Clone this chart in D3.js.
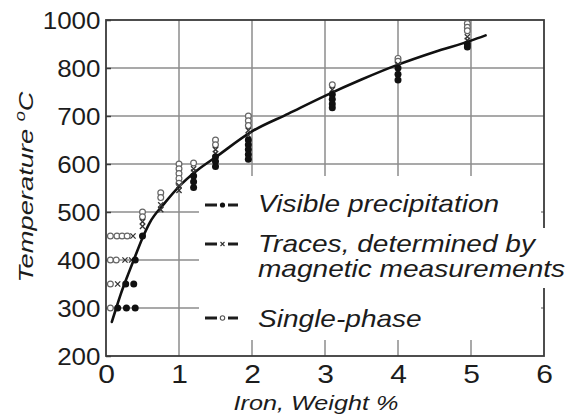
<!DOCTYPE html>
<html>
<head>
<meta charset="utf-8">
<script src="https://cdn.jsdelivr.net/npm/d3@7"></script>
<style>
  html, body { margin: 0; background: #fff; }
  svg { display: block; }
</style>
</head>
<body>
<svg id="chart" width="574" height="418"></svg>
<script>
// Axis ticks and grid
const ironTicks = [0, 1, 2, 3, 4, 5, 6];
const tempTicks = [200, 300, 400, 500, 600, 700, 800, 1000];
const gridIron = [1, 2, 3, 4, 5];
const gridTemp = [300, 400, 500, 600, 700, 800];

// Solvus curve (Fe wt%, °C)
const curveIron = [0.08, 0.14, 0.2, 0.3, 0.4, 0.5, 0.6, 0.8, 1.0, 1.25, 1.5, 2.0, 2.5, 3.0, 3.5, 4.0, 4.5, 5.0, 5.2];
const curveTemp = [271, 300, 328, 369, 408, 446, 478, 518, 553, 587, 614, 668, 705, 742, 776, 814, 867, 914, 936];

// Visible precipitation (filled circles)
const precipIron = [0.16, 0.28, 0.40, 0.27, 0.38, 0.40, 0.50,
                    1.2, 1.2, 1.2, 1.5, 1.5, 1.5,
                    1.95, 1.95, 1.95, 1.95, 1.95,
                    3.1, 3.1, 3.1, 3.1, 4.0, 4.0, 4.0, 4.95, 4.95];
const precipTemp = [300, 300, 300, 350, 350, 400, 450,
                    575, 563, 551, 615, 605, 595,
                    650, 640, 630, 620, 610,
                    745, 735, 725, 717, 800, 787, 775, 900, 888];

// Traces, determined by magnetic measurements (crosses)
const tracesIron = [0.16, 0.26, 0.35, 0.37, 0.5, 0.5, 0.75, 0.75, 1.0, 1.0,
                    1.2, 1.2, 1.5, 1.5, 1.95, 1.95, 3.1, 4.0, 4.95, 4.95];
const tracesTemp = [350, 400, 400, 450, 480, 470, 515, 505, 555, 545,
                    590, 583, 630, 622, 670, 660, 755, 815, 930, 915];

// Single-phase (open circles)
const singleIron = [0.06, 0.06, 0.06, 0.14, 0.06, 0.15, 0.22, 0.29,
                    0.5, 0.5, 0.75, 0.75, 1.0, 1.0, 1.0, 1.0, 1.0,
                    1.2, 1.5, 1.5, 1.95, 1.95, 1.95, 3.1, 4.0, 4.0,
                    4.95, 4.95, 4.95];
const singleTemp = [300, 350, 400, 400, 450, 450, 450, 450,
                    500, 490, 540, 530, 600, 590, 580, 570, 560,
                    602, 650, 640, 700, 690, 680, 765, 840, 828,
                    985, 970, 955];

const legendLabels = ["Visible precipitation", "Traces, determined by", "magnetic measurements", "Single-phase"];
const xTitle = "Iron, Weight %";

// ---------------------------------------------------------------
const svg = d3.select("#chart");
const ink = "#1c1c1c";
const gridColor = "#8c8c8c";
const font = "'Liberation Sans', Arial, Helvetica, sans-serif";

const x = d3.scaleLinear().domain([0, 6]).range([106, 544]);
// temperature axis: 1000 sits one step above 800
const y = d3.scaleLinear().domain([200, 800, 1000]).range([356, 68, 20]);

svg.append("rect").attr("width", 574).attr("height", 418).attr("fill", "#fff");

// grid
const grid = svg.append("g").attr("stroke", gridColor).attr("stroke-width", 1.5);
grid.selectAll("line.v").data(gridIron).join("line")
  .attr("class", "v")
  .attr("x1", d => x(d)).attr("x2", d => x(d))
  .attr("y1", y(1000)).attr("y2", y(200));
grid.selectAll("line.h").data(gridTemp).join("line")
  .attr("class", "h")
  .attr("x1", x(0)).attr("x2", x(6))
  .attr("y1", d => y(d)).attr("y2", d => y(d));

// plot frame
svg.append("rect")
  .attr("x", x(0)).attr("y", y(1000))
  .attr("width", x(6) - x(0)).attr("height", y(200) - y(1000))
  .attr("fill", "none").attr("stroke", "#3a3a3a").attr("stroke-width", 1.8);

// axes (labels only; the frame carries the lines)
function labelStyle(sel, size) {
  sel.attr("font-family", font).attr("font-size", size).attr("fill", ink);
}
const yAxis = svg.append("g")
  .attr("transform", `translate(${x(0)},0)`)
  .call(d3.axisLeft(y).tickValues(tempTicks).tickSizeInner(-5).tickSizeOuter(0).tickFormat(d3.format("d")));
yAxis.select(".domain").remove();
yAxis.selectAll(".tick line").attr("stroke", "#3a3a3a").attr("stroke-width", 1.5);
yAxis.selectAll(".tick text")
  .attr("x", null).attr("dy", "0.36em")
  .attr("transform", "translate(-5.5,0) scale(1.13,1)")
  .attr("text-anchor", "end")
  .call(labelStyle, 23);

const xAxis = svg.append("g")
  .attr("transform", `translate(0,${y(200)})`)
  .call(d3.axisBottom(x).tickValues(ironTicks).tickSize(0).tickFormat(d3.format("d")));
xAxis.select(".domain").remove();
xAxis.selectAll(".tick text")
  .attr("y", null).attr("dy", null)
  .attr("transform", "translate(0,27) scale(1.2,1)")
  .attr("text-anchor", "middle")
  .call(labelStyle, 25);

// solvus curve
const line = d3.line().x(d => x(d[0])).y(d => y(d[1])).curve(d3.curveMonotoneX);
svg.append("path")
  .datum(d3.zip(curveIron, curveTemp))
  .attr("d", line)
  .attr("fill", "none").attr("stroke", "#111").attr("stroke-width", 2.6)
  .attr("stroke-linecap", "round");

// markers
function openCircle(g, cx, cy) {
  g.append("circle").attr("cx", cx).attr("cy", cy).attr("r", 2.9)
    .attr("fill", "#fff").attr("stroke", "#666").attr("stroke-width", 1.2);
}
function cross(g, cx, cy) {
  g.append("path")
    .attr("d", `M${cx - 2.6},${cy - 2.6}L${cx + 2.6},${cy + 2.6}M${cx - 2.6},${cy + 2.6}L${cx + 2.6},${cy - 2.6}`)
    .attr("stroke", "#333").attr("stroke-width", 1.3).attr("fill", "none");
}
function dot(g, cx, cy, r) {
  g.append("circle").attr("cx", cx).attr("cy", cy).attr("r", r || 3.5).attr("fill", "#111");
}

const marks = svg.append("g");
d3.zip(singleIron, singleTemp).forEach(([fe, t]) => openCircle(marks, x(fe), y(t)));
d3.zip(tracesIron, tracesTemp).forEach(([fe, t]) => cross(marks, x(fe), y(t)));
d3.zip(precipIron, precipTemp).forEach(([fe, t]) => dot(marks, x(fe), y(t)));

// legend
const legend = svg.append("g");
legend.append("rect").attr("x", 199).attr("y", 176).attr("width", 342).attr("height", 164).attr("fill", "#fff");
legend.append("rect").attr("x", 536).attr("y", 228).attr("width", 38).attr("height", 60).attr("fill", "#fff");

function legendSymbol(cy, kind) {
  legend.append("line").attr("x1", 205).attr("x2", 217).attr("y1", cy).attr("y2", cy)
    .attr("stroke", ink).attr("stroke-width", 3);
  legend.append("line").attr("x1", 228).attr("x2", 238).attr("y1", cy).attr("y2", cy)
    .attr("stroke", ink).attr("stroke-width", 3);
  if (kind === "dot") dot(legend, 222.5, cy, 2.6);
  if (kind === "cross") {
    legend.append("path")
      .attr("d", `M${220.5},${cy - 2}L${224.5},${cy + 2}M${220.5},${cy + 2}L${224.5},${cy - 2}`)
      .attr("stroke", "#333").attr("stroke-width", 1.1);
  }
  if (kind === "open") {
    legend.append("circle").attr("cx", 222.5).attr("cy", cy).attr("r", 2.2)
      .attr("fill", "#fff").attr("stroke", "#555").attr("stroke-width", 1.1);
  }
}
legendSymbol(205, "dot");
legendSymbol(244, "cross");
legendSymbol(318, "open");

const legendBaselines = [212, 252, 277, 327];
legendLabels.forEach((txt, i) => {
  legend.append("text")
    .attr("transform", `translate(258,${legendBaselines[i]}) scale(1.22,1)`)
    .attr("font-family", font).attr("font-style", "italic").attr("font-size", 23)
    .attr("fill", ink).text(txt);
});

// axis titles
const yt = svg.append("text")
  .attr("transform", "translate(33,187) rotate(-90) scale(1.3,1)")
  .attr("text-anchor", "middle")
  .attr("font-family", font).attr("font-style", "italic").attr("font-size", 21)
  .attr("fill", ink);
yt.append("tspan").text("Temperature ");
yt.append("tspan").attr("font-size", 14).attr("dy", -8).text("o");
yt.append("tspan").attr("dy", 8).text("C");

svg.append("text")
  .attr("transform", "translate(316,410) scale(1.2,1)")
  .attr("text-anchor", "middle")
  .attr("font-family", font).attr("font-style", "italic").attr("font-size", 21)
  .attr("fill", ink).text(xTitle);
</script>
</body>
</html>
